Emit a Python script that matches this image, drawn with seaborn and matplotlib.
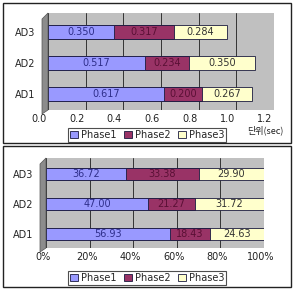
import numpy as np
import pandas as pd
import seaborn as sns
import matplotlib
matplotlib.use("Agg")
import matplotlib.pyplot as plt
from matplotlib.patches import Rectangle, Polygon
from matplotlib.transforms import ScaledTranslation

categories = ["AD3", "AD2", "AD1"]
phases = ["Phase1", "Phase2", "Phase3"]
# top chart: seconds
sec_phase1 = [0.350, 0.517, 0.617]
sec_phase2 = [0.317, 0.234, 0.200]
sec_phase3 = [0.284, 0.350, 0.267]
sec_ticks = [0.0, 0.2, 0.4, 0.6, 0.8, 1.0, 1.2]
sec_ticklabels = ["0.0", "0.2", "0.4", "0.6", "0.8", "1.0", "1.2"]
# bottom chart: percent
pct_phase1 = [36.72, 47.00, 56.93]
pct_phase2 = [33.38, 21.27, 18.43]
pct_phase3 = [29.90, 31.72, 24.63]
pct_ticks = [0, 20, 40, 60, 80, 100]
pct_ticklabels = ["0%", "20%", "40%", "60%", "80%", "100%"]
unit_label = "단위(sec)"

colors = ["#9999FF", "#993366", "#FFFFCC"]
text_colors = ["#2E2E8A", "#5A1035", "#333333"]
edge = "#1a1a40"

sns.set_style("white")
plt.rcParams["font.family"] = ["DejaVu Sans", "Noto Sans CJK KR"]

W, H = 296, 289
fig = plt.figure(figsize=(W / 100, H / 100), dpi=100)
fig.patch.set_facecolor("white")


def fx(px):
    return px / W


def fy(py):
    return 1 - py / H


def panel(y0, y1):
    fig.patches.append(Rectangle((fx(3), fy(y1)), fx(288), (y1 - y0) / H,
                                 transform=fig.transFigure, fill=False,
                                 edgecolor="#222222", linewidth=1.0))


def left_wall(x0, top, bottom):
    fig.patches.append(Polygon([(fx(x0 - 6), fy(top + 6)), (fx(x0), fy(top)),
                                (fx(x0), fy(bottom)), (fx(x0 - 6), fy(bottom + 4))],
                               closed=True, transform=fig.transFigure,
                               facecolor="#8C8C8C", edgecolor="#555555",
                               linewidth=0.5, zorder=0))


def draw_chart(ax_box, p1, p2, p3, ticks, ticklabels, xmax, fmt, ypad,
               label_shift_px):
    left, top, right, bottom = ax_box
    left_wall(left, top, bottom)
    ax = fig.add_axes([fx(left), fy(bottom), fx(right - left), (bottom - top) / H])
    ax.set_facecolor("#C0C0C0")
    df = pd.DataFrame({"cat": categories, "p1": p1, "p2": p2, "p3": p3})
    df["c2"] = df["p1"] + df["p2"]
    df["c3"] = df["c2"] + df["p3"]
    for col, c in zip(["c3", "c2", "p1"], colors[::-1]):
        sns.barplot(data=df, x=col, y="cat", order=categories, orient="h",
                    color=c, saturation=1, width=0.42, edgecolor=edge,
                    linewidth=0.6, ax=ax, zorder=3)
    for i in range(len(categories)):
        starts = [0, p1[i], p1[i] + p2[i]]
        vals = [p1[i], p2[i], p3[i]]
        for s, v, tc in zip(starts, vals, text_colors):
            ax.text(s + v / 2, i, fmt.format(v), ha="center", va="center",
                    fontsize=7, color=tc, zorder=5)
    ax.set_xlim(0, xmax)
    ax.set_ylim(ypad[1], ypad[0])
    ax.set_xticks(ticks)
    ax.set_xticklabels(ticklabels, fontsize=7, color="#222222")
    ax.tick_params(axis="x", length=0, pad=3)
    ax.tick_params(axis="y", length=0, pad=9, labelsize=7)
    for lbl in ax.get_xticklabels():
        lbl.set_transform(lbl.get_transform() +
                          ScaledTranslation(label_shift_px / 100, 0, fig.dpi_scale_trans))
    ax.xaxis.grid(True, color="#333333", linewidth=0.7, zorder=0)
    ax.set_axisbelow(True)
    ax.set_xlabel("")
    ax.set_ylabel("")
    for s in ax.spines.values():
        s.set_visible(False)
    return ax


panel(3, 143)
panel(146, 287)

ax1 = draw_chart((48, 13, 274, 110), sec_phase1, sec_phase2, sec_phase3,
                 sec_ticks, sec_ticklabels, 1.2, "{:.3f}",
                 (-0.613, 2.516), -9)
fig.text(fx(265), fy(130), unit_label, fontsize=6.5, ha="center", va="center",
         color="#222222", family=["Noto Sans CJK KR", "DejaVu Sans"])

ax2 = draw_chart((46, 158, 264, 248), pct_phase1, pct_phase2, pct_phase3,
                 pct_ticks, pct_ticklabels, 100, "{:.2f}",
                 (-0.533, 2.467), -3)

handles = [Rectangle((0, 0), 1, 1, facecolor=c, edgecolor=edge, linewidth=0.6)
           for c in colors]
for yc in (135, 278):
    leg = fig.legend(handles, phases, ncol=3, loc="center",
                     bbox_to_anchor=(fx(147), fy(yc)), fontsize=7,
                     frameon=True, fancybox=False, edgecolor="#222222",
                     handlelength=0.8, handleheight=0.8, handletextpad=0.3,
                     columnspacing=0.8, borderpad=0.2, borderaxespad=0)
    leg.get_frame().set_linewidth(0.8)

fig.savefig("out.png", dpi=100)
